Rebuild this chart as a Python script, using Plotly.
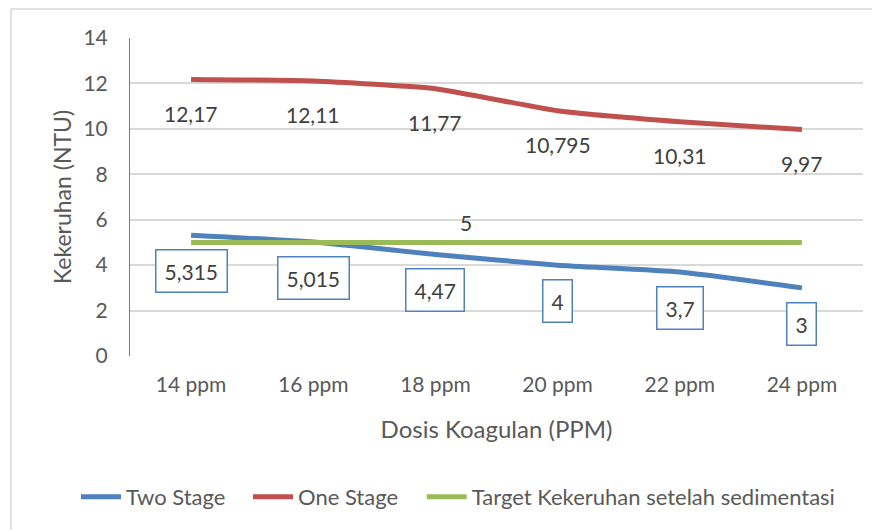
import plotly.graph_objects as go

categories = ["14 ppm", "16 ppm", "18 ppm", "20 ppm", "22 ppm", "24 ppm"]
two_stage = [5.315, 5.015, 4.47, 4, 3.7, 3]
one_stage = [12.17, 12.11, 11.77, 10.795, 10.31, 9.97]
target = [5, 5, 5, 5, 5, 5]
target_label_value = 5
y_ticks = [0, 2, 4, 6, 8, 10, 12, 14]

BLUE = "#4F81BD"
RED = "#C0504D"
GREEN = "#9BBB59"
FONT = "Lato, 'Open Sans', sans-serif"
TXT = "#595959"

def fmt(v):
    s = ("%g" % v).replace(".", ",")
    return s

fig = go.Figure()
fig.add_trace(go.Scatter(x=categories, y=two_stage, name="Two Stage", mode="lines", legend="legend",
                         line=dict(color=BLUE, width=5, shape="spline", smoothing=0.45)))
fig.add_trace(go.Scatter(x=categories, y=one_stage, name="One Stage", mode="lines", legend="legend2",
                         line=dict(color=RED, width=5, shape="spline", smoothing=0.45)))
fig.add_trace(go.Scatter(x=categories, y=target, name="Target Kekeruhan setelah sedimentasi", mode="lines",
                         legend="legend3",
                         line=dict(color=GREEN, width=5, shape="spline", smoothing=0.45)))

annotations = []
for c, v in zip(categories, one_stage):
    annotations.append(dict(x=c, y=v, xref="x", yref="y", text=fmt(v), showarrow=False,
                            yshift=-34, font=dict(family=FONT, size=21, color="#404040")))
for c, v in zip(categories, two_stage):
    annotations.append(dict(x=c, y=v, xref="x", yref="y", text=fmt(v), showarrow=False,
                            yshift=-36, bordercolor=BLUE, borderwidth=1.5, borderpad=8,
                            bgcolor="white",
                            font=dict(family=FONT, size=21, color="#404040")))
annotations.append(dict(x=2.25, y=target_label_value, xref="x", yref="y", text=fmt(target_label_value),
                        showarrow=False, yshift=20,
                        font=dict(family=FONT, size=21, color="#404040")))

def leg(x):
    return dict(orientation="h", x=x, xanchor="left", y=-0.443, yanchor="middle",
                font=dict(family=FONT, size=22, color=TXT), itemwidth=40,
                bgcolor="rgba(0,0,0,0)")

fig.update_layout(
    width=872, height=522,
    margin=dict(l=122, r=17, t=30, b=174, autoexpand=False),
    paper_bgcolor="white", plot_bgcolor="white",
    font=dict(family=FONT, color=TXT, size=21),
    showlegend=True,
    legend=leg(-0.0737), legend2=leg(0.161), legend3=leg(0.398),
    annotations=annotations,
    shapes=[dict(type="rect", xref="paper", yref="paper", x0=-0.1623, x1=1.03, y0=-0.563, y1=1.091,
                 line=dict(color="#D9D9D9", width=1.5), layer="below")],
)
fig.update_xaxes(type="category", range=[-0.5, 5.5], showgrid=False, showline=False, zeroline=False,
                 automargin=False,
                 ticks="", ticklabelstandoff=14, tickfont=dict(family=FONT, size=21, color=TXT),
                 title=dict(text="Dosis Koagulan (PPM)", standoff=26,
                            font=dict(family=FONT, size=24, color=TXT)))
fig.update_yaxes(range=[0, 14], tickvals=y_ticks, showgrid=True, gridcolor="#D9D9D9", gridwidth=1.5,
                 showline=True, linecolor=BLUE, linewidth=1, zeroline=False, automargin=False,
                 ticks="", ticklabelstandoff=17, tickfont=dict(family=FONT, size=21, color=TXT),
                 title=dict(text="Kekeruhan (NTU)", standoff=5,
                            font=dict(family=FONT, size=23, color=TXT)))

fig.write_html("out.html")
